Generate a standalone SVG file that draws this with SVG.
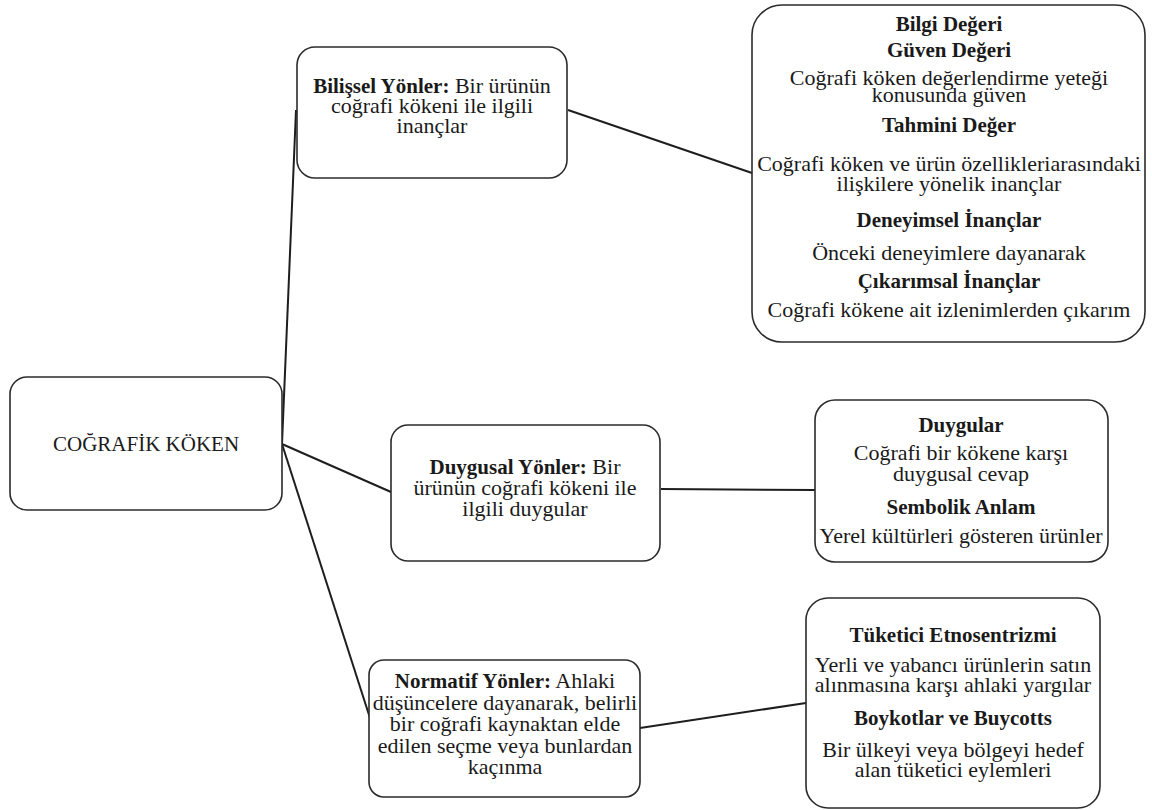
<svg xmlns="http://www.w3.org/2000/svg" width="1152" height="810" viewBox="0 0 1152 810">
  <style>
    .box { fill: #ffffff; stroke: #2b2b2b; stroke-width: 1.6; }
    .link { stroke: #1e1e1e; stroke-width: 2; fill: none; }
    .t { font-family: "Liberation Serif", "Times New Roman", serif; fill: #1a1a1a; text-anchor: middle; }
    .r { font-size: 22px; font-weight: normal; }
    .b { font-size: 21px; font-weight: bold; }
    .root { font-size: 21px; }
  </style>
  <rect width="1152" height="810" fill="#ffffff"/>

  <!-- connectors -->
  <g id="connectors">
    <line class="link" x1="282" y1="444" x2="296" y2="110"/>
    <line class="link" x1="282" y1="444" x2="391" y2="492"/>
    <line class="link" x1="282" y1="444" x2="370" y2="718"/>
    <line class="link" x1="568" y1="110" x2="752" y2="173"/>
    <line class="link" x1="661" y1="489" x2="815" y2="490"/>
    <line class="link" x1="640" y1="728" x2="806" y2="703"/>
  </g>

  <!-- root -->
  <g id="node-root">
    <rect class="box" x="10" y="377" width="272" height="133" rx="17"/>
    <text class="t root" x="146" y="451">COĞRAFİK KÖKEN</text>
  </g>

  <!-- cognitive aspects -->
  <g id="node-bilissel">
    <rect class="box" x="297" y="47" width="270" height="131" rx="18"/>
    <text class="t" x="432" y="93"><tspan class="b">Bilişsel Yönler:</tspan><tspan class="r"> Bir ürünün</tspan></text>
    <text class="t r" x="432" y="113">coğrafi kökeni ile ilgili</text>
    <text class="t r" x="432" y="133">inançlar</text>
  </g>

  <g id="node-bilgi">
    <rect class="box" x="752" y="5" width="393" height="337" rx="30"/>
    <text class="t b" x="949" y="31">Bilgi Değeri</text>
    <text class="t b" x="949" y="57">Güven Değeri</text>
    <text class="t r" x="949" y="85">Coğrafi köken değerlendirme yeteği</text>
    <text class="t r" x="949" y="102">konusunda güven</text>
    <text class="t b" x="949" y="132">Tahmini Değer</text>
    <text class="t r" x="949" y="171">Coğrafi köken ve ürün özellikleriarasındaki</text>
    <text class="t r" x="949" y="191">ilişkilere yönelik inançlar</text>
    <text class="t b" x="949" y="227">Deneyimsel İnançlar</text>
    <text class="t r" x="949" y="260">Önceki deneyimlere dayanarak</text>
    <text class="t b" x="949" y="288">Çıkarımsal İnançlar</text>
    <text class="t r" x="949" y="317">Coğrafi kökene ait izlenimlerden çıkarım</text>
  </g>

  <!-- affective aspects -->
  <g id="node-duygusal">
    <rect class="box" x="391" y="425" width="269" height="136" rx="17"/>
    <text class="t" x="525" y="474"><tspan class="b">Duygusal Yönler:</tspan><tspan class="r"> Bir</tspan></text>
    <text class="t r" x="525" y="495">ürünün coğrafi kökeni ile</text>
    <text class="t r" x="525" y="516">ilgili duygular</text>
  </g>

  <g id="node-duygular">
    <rect class="box" x="815" y="400" width="293" height="162" rx="20"/>
    <text class="t b" x="961" y="432">Duygular</text>
    <text class="t r" x="961" y="460">Coğrafi bir kökene karşı</text>
    <text class="t r" x="961" y="481">duygusal cevap</text>
    <text class="t b" x="961" y="514">Sembolik Anlam</text>
    <text class="t r" x="961" y="543">Yerel kültürleri gösteren ürünler</text>
  </g>

  <!-- normative aspects -->
  <g id="node-normatif">
    <rect class="box" x="369" y="660" width="271" height="137" rx="15"/>
    <text class="t" x="505" y="688"><tspan class="b">Normatif Yönler:</tspan><tspan class="r"> Ahlaki</tspan></text>
    <text class="t r" x="505" y="710">düşüncelere dayanarak, belirli</text>
    <text class="t r" x="505" y="731">bir coğrafi kaynaktan elde</text>
    <text class="t r" x="505" y="753">edilen seçme veya bunlardan</text>
    <text class="t r" x="505" y="774">kaçınma</text>
  </g>

  <g id="node-tuketici">
    <rect class="box" x="806" y="598" width="294" height="210" rx="22"/>
    <text class="t b" x="953" y="642">Tüketici Etnosentrizmi</text>
    <text class="t r" x="953" y="672">Yerli ve yabancı ürünlerin satın</text>
    <text class="t r" x="953" y="692">alınmasına karşı ahlaki yargılar</text>
    <text class="t b" x="953" y="725">Boykotlar ve Buycotts</text>
    <text class="t r" x="953" y="757">Bir ülkeyi veya bölgeyi hedef</text>
    <text class="t r" x="953" y="777">alan tüketici eylemleri</text>
  </g>
</svg>
